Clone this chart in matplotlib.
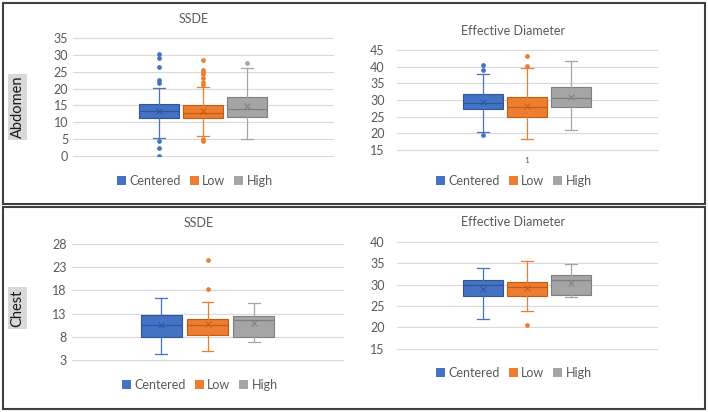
import matplotlib
matplotlib.use("Agg")
import matplotlib.pyplot as plt
from matplotlib.patches import Patch, Rectangle

plt.rcParams['font.family'] = ['Lato', 'DejaVu Sans']

W, H = 708, 412

series = ["Centered", "Low", "High"]
colors = ["#4472C4", "#ED7D31", "#A5A5A5"]
dark = ["#2F5597", "#C55A11", "#7F7F7F"]

# stats: whislo, q1, median, mean, q3, whishi
abd_ssde_stats = [
    [5.25, 11.2, 13.2, 13.2, 15.4, 20.1],
    [5.8, 11.2, 12.7, 13.4, 15.1, 20.6],
    [5.0, 11.5, 14.0, 14.7, 17.4, 26.1],
]
abd_ssde_fliers = [
    [30.4, 29.1, 26.3, 22.6, 21.6, 4.4, 2.4, 0.0],
    [28.4, 25.6, 25.0, 24.4, 23.1, 21.9, 21.0, 5.0, 4.5],
    [27.6],
]
abd_ed_stats = [
    [20.4, 27.2, 29.2, 29.5, 31.7, 37.7],
    [18.2, 25.0, 27.9, 28.2, 31.0, 39.5],
    [20.9, 27.8, 30.7, 31.0, 34.0, 41.8],
]
abd_ed_fliers = [[40.5, 39.1, 19.6], [43.1, 40.3], []]
chest_ssde_stats = [
    [4.3, 8.0, 10.6, 10.6, 12.8, 16.3],
    [4.9, 8.4, 10.6, 10.7, 11.9, 15.4],
    [6.9, 8.0, 11.7, 10.9, 12.4, 15.2],
]
chest_ssde_fliers = [[], [24.4, 18.3], []]
chest_ed_stats = [
    [21.9, 27.4, 29.8, 28.9, 31.0, 33.8],
    [23.7, 27.2, 29.4, 29.2, 30.6, 35.6],
    [27.1, 27.6, 31.0, 30.3, 32.2, 34.7],
]
chest_ed_fliers = [[], [20.45], []]

titles = ["SSDE", "Effective Diameter", "SSDE", "Effective Diameter"]
row_labels = ["Abdomen", "Chest"]
yticks_list = [list(range(0, 36, 5)), list(range(15, 46, 5)),
               list(range(3, 29, 5)), list(range(15, 41, 5))]
xtick_label = "1"

fig = plt.figure(figsize=(W / 100, H / 100), dpi=100)


def fx(x):
    return x / W


def fy(y):
    return 1 - y / H


# panel layout in pixels: (x0, x1, y_top, y_bottom)
panels = [
    (73, 333, 38, 156),
    (397, 657, 50, 150),
    (71.7, 343.3, 243.7, 360.3),
    (397, 657, 241.7, 348.7),
]
title_pos = [(194, 19), (513, 31), (199, 223), (513, 222)]
legend_pos = [(195, 181), (514, 181), (200, 385), (514, 373)]
tick_pad = [3.5, 9, 3.5, 9]

data = [(abd_ssde_stats, abd_ssde_fliers), (abd_ed_stats, abd_ed_fliers),
        (chest_ssde_stats, chest_ssde_fliers), (chest_ed_stats, chest_ed_fliers)]

for i, ((stats, fliers), (x0, x1, yt, yb)) in enumerate(zip(data, panels)):
    ax = fig.add_axes([fx(x0), fy(yb), (x1 - x0) / W, (yb - yt) / H])
    ax.set_axisbelow(True)
    for j in range(3):
        s = stats[j]
        d = dict(whislo=s[0], q1=s[1], med=s[2], mean=s[3], q3=s[4],
                 whishi=s[5], fliers=fliers[j], label=series[j])
        ax.bxp([d], positions=[j + 1], widths=0.91, capwidths=[0.26],
               showmeans=True, patch_artist=True,
               boxprops=dict(facecolor=colors[j], edgecolor=dark[j], linewidth=0.8),
               medianprops=dict(color=dark[j], linewidth=0.9),
               whiskerprops=dict(color=colors[j], linewidth=0.9),
               capprops=dict(color=colors[j], linewidth=0.9),
               meanprops=dict(marker='x', markeredgecolor=dark[j],
                              markersize=4.5, markeredgewidth=0.7),
               flierprops=dict(marker='o', markerfacecolor=colors[j],
                               markeredgecolor=colors[j], markersize=2.4))
    ax.set_xlim(2 - 2.95, 2 + 2.95)
    yt_ = yticks_list[i]
    ax.set_ylim(yt_[0], yt_[-1])
    ax.set_yticks(yt_)
    ax.tick_params(axis='y', length=0, pad=tick_pad[i], labelsize=9, labelcolor='#595959')
    if i == 1:
        ax.set_xticks([2])
        ax.set_xticklabels([xtick_label])
        ax.tick_params(axis='x', length=0, pad=5, labelsize=6, labelcolor='#595959')
    else:
        ax.set_xticks([])
    ax.yaxis.grid(True, color='#D9D9D9', linewidth=0.8)
    for sp in ax.spines.values():
        sp.set_visible(False)
    for line in ax.get_ygridlines():
        line.set_clip_on(False)
    tx, ty = title_pos[i]
    fig.text(fx(tx), fy(ty), titles[i], ha='center', va='center',
             fontsize=9, color='#595959')
    handles = [Patch(facecolor=c, edgecolor='none') for c in colors]
    lx, ly = legend_pos[i]
    ax.legend(handles, series, loc='center', bbox_to_anchor=(fx(lx), fy(ly)),
              bbox_transform=fig.transFigure, ncol=3, frameon=False,
              handlelength=0.7, handleheight=0.7, handletextpad=0.3,
              columnspacing=0.7, fontsize=9, labelcolor='#595959',
              borderpad=0, borderaxespad=0)

# row labels
fig.text(fx(17.5), fy(107), row_labels[0], rotation=90, ha='center', va='center',
         fontsize=10.5, color='#1a1a1a',
         bbox=dict(facecolor='#D9D9D9', edgecolor='none', pad=1.5))
fig.text(fx(17.5), fy(308), row_labels[1], rotation=90, ha='center', va='center',
         fontsize=10.5, color='#1a1a1a',
         bbox=dict(facecolor='#D9D9D9', edgecolor='none', pad=1.5))

# outer frames
for (x0, y0, x1, y1) in [(2.5, 3, 705, 204.5), (2.5, 206.5, 704.5, 409)]:
    fig.patches.append(Rectangle((fx(x0), fy(y1)), (x1 - x0) / W, (y1 - y0) / H,
                                 transform=fig.transFigure, fill=False,
                                 edgecolor='#404040', linewidth=1.5))

fig.savefig("out.png", dpi=100)
